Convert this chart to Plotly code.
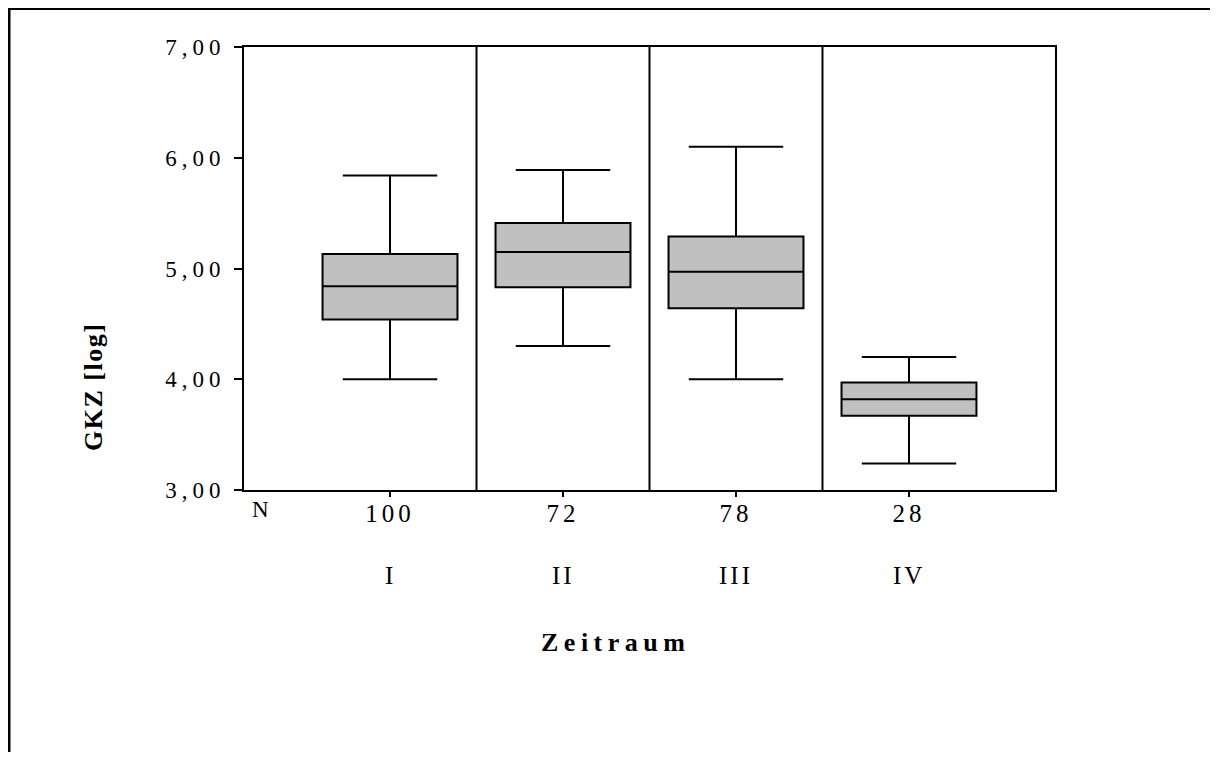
import plotly.graph_objects as go

# ---- data ----
categories = ["I", "II", "III", "IV"]
counts = [100, 72, 78, 28]
q1 = [4.54, 4.83, 4.64, 3.67]
median = [4.84, 5.15, 4.97, 3.82]
q3 = [5.13, 5.41, 5.29, 3.97]
lower_whisker = [4.00, 4.30, 4.00, 3.24]
upper_whisker = [5.84, 5.89, 6.10, 4.20]
y_ticks = [3, 4, 5, 6, 7]
y_ticklabels = ["3,00", "4,00", "5,00", "6,00", "7,00"]

FONT = "Liberation Serif, Times New Roman, serif"
W, H = 1202, 744
ML, MR, MT, MB = 236, 155, 39, 262
PW, PH = W - ML - MR, H - MT - MB


def px(fx):
    return (fx - ML) / PW


def py(fy):
    return (H - MB - fy) / PH


def spaced(text, sp):
    return f"<span style='letter-spacing:{sp}px'>{text}</span>"


fig = go.Figure()
fig.add_trace(go.Box(
    x=categories,
    q1=q1, median=median, q3=q3,
    lowerfence=lower_whisker, upperfence=upper_whisker,
    fillcolor="#c0c0c0",
    line=dict(color="black", width=2),
    width=0.78,
    whiskerwidth=0.70,
    boxpoints=False,
    showlegend=False,
    hoverinfo="skip",
))

shapes = []
# separators between categories
for i in range(len(categories) - 1):
    shapes.append(dict(type="line", xref="x", yref="paper", x0=i + 0.5, x1=i + 0.5,
                       y0=0, y1=1, line=dict(color="black", width=2)))
# outer frame (top and left only)
shapes.append(dict(type="line", xref="paper", yref="paper", x0=px(0), x1=px(W + 20),
                   y0=py(1), y1=py(1), line=dict(color="black", width=2)))
shapes.append(dict(type="line", xref="paper", yref="paper", x0=px(1), x1=px(1),
                   y0=py(0), y1=py(H + 20), line=dict(color="black", width=3)))

annotations = []
for c in categories:
    annotations.append(dict(x=c, xref="x", y=py(567), yref="paper", text=spaced(c, 3),
                            xanchor="center", yanchor="middle",
                            showarrow=False, font=dict(family=FONT, size=25, color="black")))
annotations.append(dict(x=px(252), y=py(501), xref="paper", yref="paper", text="N",
                        xanchor="center", yanchor="middle",
                        showarrow=False, font=dict(family=FONT, size=23, color="black")))
annotations.append(dict(x=px(607), y=py(634), xref="paper", yref="paper",
                        text="<b>" + spaced("Zeitraum", 5.5) + "</b>",
                        xanchor="center", yanchor="middle",
                        showarrow=False, font=dict(family=FONT, size=26, color="black")))
annotations.append(dict(x=px(85), y=py(379), xref="paper", yref="paper",
                        text="<b>" + spaced("GKZ [log]", 1.5) + "</b>",
                        xanchor="center", yanchor="middle",
                        textangle=-90, showarrow=False,
                        font=dict(family=FONT, size=26, color="black")))

fig.update_layout(
    width=W, height=H,
    margin=dict(l=ML, r=MR, t=MT, b=MB, pad=0),
    paper_bgcolor="white", plot_bgcolor="white",
    font=dict(family=FONT, color="black"),
    shapes=shapes,
    annotations=annotations,
    xaxis=dict(
        type="category",
        categoryorder="array", categoryarray=categories,
        range=[-0.844, len(categories) - 1 + 0.844],
        tickmode="array", tickvals=categories,
        ticktext=[spaced(str(n), 4) for n in counts],
        ticks="outside", ticklen=5, tickwidth=2, tickcolor="black",
        tickfont=dict(family=FONT, size=25, color="black"),
        ticklabelstandoff=-5,
        showline=True, linecolor="black", linewidth=2, mirror=True,
        showgrid=False, zeroline=False, fixedrange=True,
    ),
    yaxis=dict(
        range=[3, 7],
        tickmode="array", tickvals=y_ticks,
        ticktext=[spaced(t, 5) for t in y_ticklabels],
        ticks="outside", ticklen=8, tickwidth=2, tickcolor="black",
        tickfont=dict(family=FONT, size=23, color="black"),
        ticklabelstandoff=4,
        showline=True, linecolor="black", linewidth=2, mirror=True,
        showgrid=False, zeroline=False, fixedrange=True,
    ),
)

fig.write_html("out.html")
